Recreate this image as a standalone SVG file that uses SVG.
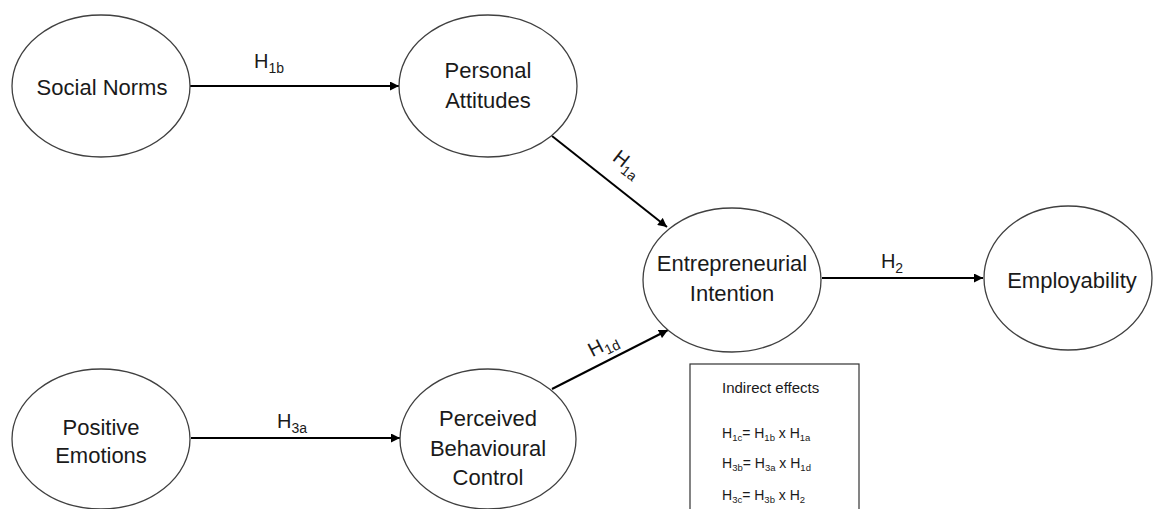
<svg xmlns="http://www.w3.org/2000/svg" width="1153" height="509" viewBox="0 0 1153 509">
<defs>
<style>
.node ellipse{fill:#fff;stroke:#404040;stroke-width:1.3}
.lbl{font-family:"Liberation Sans",Arial,sans-serif;font-size:22px;fill:#1a1a1a;text-anchor:middle}
.h{font-family:"Liberation Sans",Arial,sans-serif;font-size:20px;fill:#1a1a1a;text-anchor:middle}
.conn line{stroke:#000;stroke-width:2;fill:none}
.box{fill:#fff;stroke:#333;stroke-width:1.2}
.f{font-family:"Liberation Sans",Arial,sans-serif;font-size:14px;fill:#1a1a1a}
.t{font-family:"Liberation Sans",Arial,sans-serif;font-size:15px;fill:#1a1a1a}
</style>
<marker id="arr" viewBox="0 0 10 10" refX="10" refY="5" markerWidth="10" markerHeight="9" markerUnits="userSpaceOnUse" orient="auto">
<path d="M0,0 L10,5 L0,10 z" fill="#000"/>
</marker>
</defs>
<rect width="1153" height="509" fill="#fff"/>

<g id="connectors" class="conn">
<line x1="190" y1="86" x2="399" y2="86" marker-end="url(#arr)"/>
<line x1="552" y1="136" x2="667" y2="227" marker-end="url(#arr)"/>
<line x1="552" y1="389" x2="668" y2="330" marker-end="url(#arr)"/>
<line x1="822" y1="278" x2="983" y2="278" marker-end="url(#arr)"/>
<line x1="191" y1="438" x2="400" y2="438" marker-end="url(#arr)"/>
</g>

<g id="connector-labels">
<text class="h" x="269" y="68">H<tspan dy="5" font-size="14">1b</tspan></text>
<text class="h" transform="rotate(38 627 164)" x="627" y="170">H<tspan dy="5" font-size="14">1a</tspan></text>
<text class="h" transform="rotate(-27 603 345)" x="603" y="351">H<tspan dy="5" font-size="14">1d</tspan></text>
<text class="h" x="892" y="268">H<tspan dy="5" font-size="14">2</tspan></text>
<text class="h" x="292" y="428">H<tspan dy="5" font-size="14">3a</tspan></text>
</g>

<g id="social-norms" class="node">
<ellipse cx="101" cy="86" rx="89" ry="71"/>
<text class="lbl" x="102" y="95">Social Norms</text>
</g>

<g id="personal-attitudes" class="node">
<ellipse cx="488" cy="86" rx="89" ry="71"/>
<text class="lbl" x="488" y="78">Personal</text>
<text class="lbl" x="488" y="108">Attitudes</text>
</g>

<g id="entrepreneurial-intention" class="node">
<ellipse cx="732" cy="280" rx="89" ry="72"/>
<text class="lbl" x="732" y="271">Entrepreneurial</text>
<text class="lbl" x="732" y="301">Intention</text>
</g>

<g id="employability" class="node">
<ellipse cx="1068" cy="278" rx="84" ry="72"/>
<text class="lbl" x="1072" y="288">Employability</text>
</g>

<g id="positive-emotions" class="node">
<ellipse cx="101" cy="439" rx="89" ry="70"/>
<text class="lbl" x="101" y="435">Positive</text>
<text class="lbl" x="101" y="463">Emotions</text>
</g>

<g id="perceived-behavioural-control" class="node">
<ellipse cx="488" cy="439" rx="88" ry="70"/>
<text class="lbl" x="488" y="426">Perceived</text>
<text class="lbl" x="488" y="456">Behavioural</text>
<text class="lbl" x="488" y="485">Control</text>
</g>

<g id="indirect-effects">
<rect class="box" x="690" y="364" width="169" height="160"/>
<text class="t" x="722" y="393">Indirect effects</text>
<text class="f" x="722" y="438">H<tspan dy="3" font-size="9.5">1c</tspan><tspan dy="-3">= H</tspan><tspan dy="3" font-size="9.5">1b</tspan><tspan dy="-3"> x H</tspan><tspan dy="3" font-size="9.5">1a</tspan></text>
<text class="f" x="722" y="468">H<tspan dy="3" font-size="9.5">3b</tspan><tspan dy="-3">= H</tspan><tspan dy="3" font-size="9.5">3a</tspan><tspan dy="-3"> x H</tspan><tspan dy="3" font-size="9.5">1d</tspan></text>
<text class="f" x="722" y="500">H<tspan dy="3" font-size="9.5">3c</tspan><tspan dy="-3">= H</tspan><tspan dy="3" font-size="9.5">3b</tspan><tspan dy="-3"> x H</tspan><tspan dy="3" font-size="9.5">2</tspan></text>
</g>
</svg>
